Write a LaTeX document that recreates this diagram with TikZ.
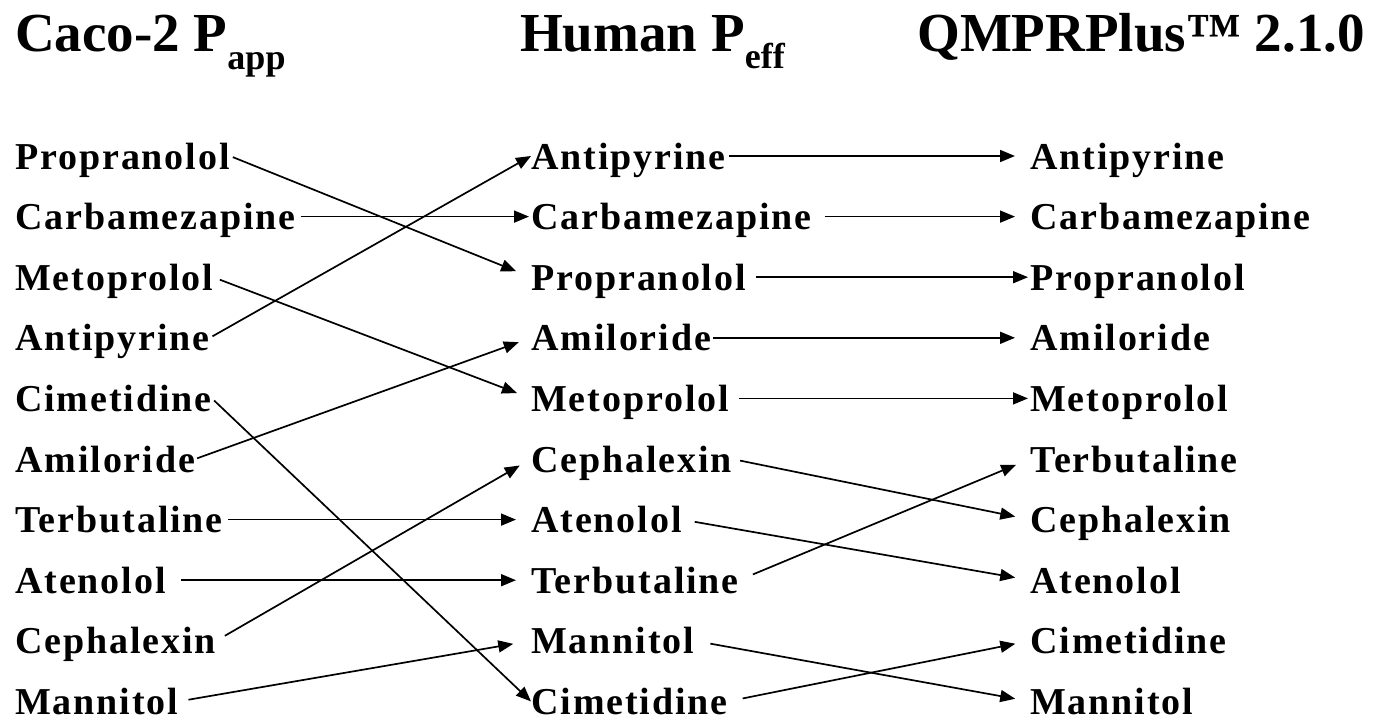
\documentclass[tikz,border=0pt]{standalone}
\usepackage{fontspec}
\setmainfont{Liberation Serif}
\newfontfamily\spacedserif{Liberation Serif}[LetterSpace=5]
\usetikzlibrary{arrows.meta}
\newcommand{\lblfont}{\spacedserif\bfseries\fontsize{38bp}{40bp}\selectfont}
\newcommand{\ttlfont}{\bfseries\fontsize{55bp}{58bp}\selectfont}
\newcommand{\subfont}{\bfseries\fontsize{36bp}{38bp}\selectfont}
\begin{document}
\begin{tikzpicture}[x=1bp,y=-1bp,
  lbl/.style={anchor=base west, inner xsep=0pt, inner ysep=0pt,
              text height=26bp, text depth=0bp, font=\lblfont},
  ttl/.style={anchor=base west, inner sep=0pt, font=\ttlfont},
  link/.style={line width=1.7bp, -{Triangle[length=15bp,width=12bp]}}]
\useasboundingbox (0,0) rectangle (1374,723);

% column headings
\node[ttl] (t1) at (15,52) {Caco-2 P\raisebox{-18bp}{\subfont app}};
\node[ttl] (t2) at (520,52) {Human P\raisebox{-17bp}{\subfont eff}};
\node[ttl] (t3) at (917,52) {QMPRPlus™ 2.1.0};

% Caco-2 ranking
\foreach \name [count=\i from 0] in {Propranolol,Carbamezapine,Metoprolol,Antipyrine,Cimetidine,Amiloride,Terbutaline,Atenolol,Cephalexin,Mannitol}
  \node[lbl] (l\i) at (15,169+60.6*\i) {\name};
% human ranking
\foreach \name [count=\i from 0] in {Antipyrine,Carbamezapine,Propranolol,Amiloride,Metoprolol,Cephalexin,Atenolol,Terbutaline,Mannitol,Cimetidine}
  \node[lbl] (m\i) at (531,169+60.6*\i) {\name};
% predicted ranking
\foreach \name [count=\i from 0] in {Antipyrine,Carbamezapine,Propranolol,Amiloride,Metoprolol,Terbutaline,Cephalexin,Atenolol,Cimetidine,Mannitol}
  \node[lbl] (r\i) at (1030,169+60.6*\i) {\name};

% Caco-2 -> human
\foreach \a/\b/\s/\e in {0/2/3/16, 1/1/5/2, 2/4/7/15, 3/0/3/0, 4/9/3/0,
                         5/3/2/13, 6/6/5/15, 7/7/15/15, 8/5/10/13, 9/8/10/18}
  \draw[link, shorten <=\s bp, shorten >=\e bp] (l\a.east) -- (m\b.west);
% human -> predicted
\foreach \a/\b/\s/\e in {0/0/3/15, 1/1/13/15, 2/2/10/2, 3/3/2/15, 4/4/10/2,
                         5/6/8/15, 6/7/13/15, 7/5/15/15, 8/9/16/15, 9/8/15/15}
  \draw[link, shorten <=\s bp, shorten >=\e bp] (m\a.east) -- (r\b.west);
\end{tikzpicture}
\end{document}
